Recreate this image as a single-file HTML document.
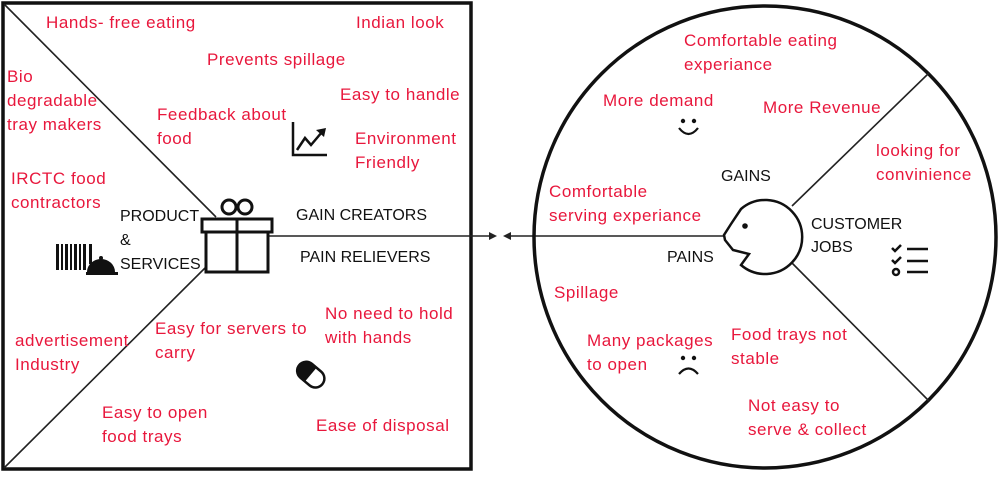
<!DOCTYPE html>
<html><head><meta charset="utf-8"><style>
html,body{margin:0;padding:0;background:#fff;}
svg text{font-family:"Liberation Sans",sans-serif;font-size:17px;letter-spacing:0.55px;}
.r{fill:#e8173c;}
.k{fill:#111;font-size:16px !important;letter-spacing:0 !important;}
</style></head><body>
<svg width="1000" height="473" viewBox="0 0 1000 473" xmlns="http://www.w3.org/2000/svg">
<rect x="3" y="3" width="468" height="466" fill="none" stroke="#111" stroke-width="3.5"/>
<line x1="4" y1="4" x2="216" y2="217" stroke="#222" stroke-width="1.6"/>
<line x1="4" y1="468" x2="205" y2="268" stroke="#222" stroke-width="1.6"/>
<line x1="268" y1="236" x2="492" y2="236" stroke="#222" stroke-width="1.6"/>
<polygon points="497,236 489,232 489,240" fill="#222"/>
<polygon points="503,236 511,232 511,240" fill="#222"/>
<line x1="508" y1="236" x2="724" y2="236" stroke="#222" stroke-width="1.6"/>
<circle cx="765" cy="237" r="231" fill="none" stroke="#111" stroke-width="3.5"/>
<line x1="792" y1="206" x2="929" y2="73" stroke="#222" stroke-width="1.6"/>
<line x1="792" y1="263" x2="929" y2="401" stroke="#222" stroke-width="1.6"/>
<path d="M741,209 A37,37 0 1 1 741,265 L749,254 L733,250 L725,240 L724,235 L731,224 Z" fill="none" stroke="#111" stroke-width="2.5"/>
<circle cx="745" cy="226" r="2.8" fill="#111"/>
<g stroke="#111" stroke-width="3" fill="none">
<rect x="202" y="219" width="70" height="13"/>
<rect x="206" y="232" width="62" height="40"/>
<line x1="237" y1="219" x2="237" y2="272"/>
<circle cx="229" cy="207" r="7"/><circle cx="245" cy="207" r="7"/>
</g>
<g fill="#111">
<rect x="56" y="244" width="3" height="26"/><rect x="61" y="244" width="2" height="26"/><rect x="65" y="244" width="3" height="26"/><rect x="70" y="244" width="2" height="26"/><rect x="74" y="244" width="3" height="26"/><rect x="79" y="244" width="2" height="26"/><rect x="83" y="244" width="3" height="26"/><rect x="89" y="244" width="3" height="20"/>
<path d="M87,272 A14,13 0 0 1 115,272 Z"/><rect x="86" y="272" width="32" height="3"/><circle cx="101" cy="258" r="2"/>
</g>
<g stroke="#111" stroke-width="2.5" fill="none">
<polyline points="293,122 293,155 327,155"/>
<polyline points="297,150 305,138 311,145 322,132"/>
</g>
<polygon points="326,128 316,130 324,137" fill="#111"/>
<g transform="rotate(40 310 374)">
<rect x="296" y="365" width="30" height="18" rx="9" fill="#fff" stroke="#111" stroke-width="2.5"/>
<path d="M305,365 A9,9 0 0 0 305,383 L311,383 L311,365 Z" fill="#111"/>
</g>
<circle cx="683" cy="121" r="2.2" fill="#111"/><circle cx="694" cy="121" r="2.2" fill="#111"/>
<path d="M679,128 Q688.5,140 698,128" stroke="#111" stroke-width="2.2" fill="none"/>
<circle cx="683" cy="358" r="2.2" fill="#111"/><circle cx="694" cy="358" r="2.2" fill="#111"/>
<path d="M679,374 Q688.5,363 698,374" stroke="#111" stroke-width="2.2" fill="none"/>
<g stroke="#111" stroke-width="2.5" fill="none">
<polyline points="892,248 895,251 901,245"/><polyline points="892,260 895,263 901,257"/>
<circle cx="896" cy="272" r="3"/>
<line x1="907" y1="249" x2="928" y2="249"/><line x1="907" y1="261" x2="928" y2="261"/><line x1="907" y1="272" x2="928" y2="272"/>
</g>
<text class="k" x="120" y="221">PRODUCT</text>
<text class="k" x="120" y="245">&amp;</text>
<text class="k" x="120" y="269">SERVICES</text>
<text class="k" x="296" y="220">GAIN CREATORS</text>
<text class="k" x="300" y="262">PAIN RELIEVERS</text>
<text class="k" x="721" y="181">GAINS</text>
<text class="k" x="667" y="262">PAINS</text>
<text class="k" x="811" y="229">CUSTOMER</text>
<text class="k" x="811" y="252">JOBS</text>
<text class="r" x="46" y="28">Hands- free eating</text>
<text class="r" x="356" y="28">Indian look</text>
<text class="r" x="207" y="65">Prevents spillage</text>
<text class="r" x="7" y="82">Bio</text>
<text class="r" x="7" y="106">degradable</text>
<text class="r" x="7" y="130">tray makers</text>
<text class="r" x="340" y="100">Easy to handle</text>
<text class="r" x="157" y="120">Feedback about</text>
<text class="r" x="157" y="144">food</text>
<text class="r" x="355" y="144">Environment</text>
<text class="r" x="355" y="168">Friendly</text>
<text class="r" x="11" y="184">IRCTC food</text>
<text class="r" x="11" y="208">contractors</text>
<text class="r" x="325" y="319">No need to hold</text>
<text class="r" x="325" y="343">with hands</text>
<text class="r" x="155" y="334">Easy for servers to</text>
<text class="r" x="155" y="358">carry</text>
<text class="r" x="15" y="346">advertisement</text>
<text class="r" x="15" y="370">Industry</text>
<text class="r" x="102" y="418">Easy to open</text>
<text class="r" x="102" y="442">food trays</text>
<text class="r" x="316" y="431">Ease of disposal</text>
<text class="r" x="684" y="46">Comfortable eating</text>
<text class="r" x="684" y="70">experiance</text>
<text class="r" x="603" y="106">More demand</text>
<text class="r" x="763" y="113">More Revenue</text>
<text class="r" x="876" y="156">looking for</text>
<text class="r" x="876" y="180">convinience</text>
<text class="r" x="549" y="197">Comfortable</text>
<text class="r" x="549" y="221">serving experiance</text>
<text class="r" x="554" y="298">Spillage</text>
<text class="r" x="587" y="346">Many packages</text>
<text class="r" x="587" y="370">to open</text>
<text class="r" x="731" y="340">Food trays not</text>
<text class="r" x="731" y="364">stable</text>
<text class="r" x="748" y="411">Not easy to</text>
<text class="r" x="748" y="435">serve &amp; collect</text>
</svg>
</body></html>
